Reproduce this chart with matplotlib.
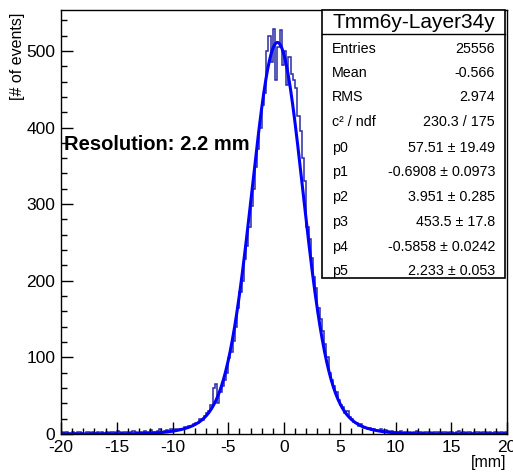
import numpy as np
import matplotlib.pyplot as plt
from matplotlib.patches import Rectangle
from matplotlib.ticker import MultipleLocator

plt.rcParams['font.family'] = ['Liberation Sans', 'DejaVu Sans']
plt.rcParams['axes.unicode_minus'] = False

# histogram: 200 bins of 0.2 mm from -20 to 20
bin_edges = np.linspace(-20, 20, 201)
counts = [
    2, 1, 3, 1, 0, 2, 1, 3, 2, 1, 0, 2, 3, 1, 2, 1, 2, 0, 3, 1,
    2, 1, 3, 2, 1, 4, 2, 1, 3, 2, 1, 3, 4, 2, 1, 3, 2, 4, 3, 2,
    5, 3, 2, 4, 6, 3, 4, 5, 3, 6, 4, 6, 5, 7, 6, 9, 8, 11, 10, 13,
    14, 15, 19, 18, 24, 27, 30, 38, 60, 65, 40, 55, 62, 70, 80, 99, 107, 122, 140, 165,
    185, 200, 228, 245, 270, 298, 320, 348, 372, 400, 430, 445, 500, 520, 485, 528, 462, 505, 527, 482,
    500, 455, 492, 470, 462, 452, 415, 395, 360, 330, 270, 255, 230, 205, 190, 165, 150, 135, 118, 100,
    80, 70, 62, 55, 45, 38, 35, 28, 30, 22, 20, 16, 15, 11, 13, 9, 8, 7, 8, 5,
    6, 5, 4, 6, 3, 5, 4, 3, 4, 2, 3, 2, 4, 1, 3, 2, 3, 1, 2, 4,
    2, 3, 1, 2, 3, 2, 1, 3, 2, 2, 1, 3, 2, 1, 2, 3, 1, 2, 4, 1,
    2, 1, 3, 2, 1, 2, 3, 2, 1, 2, 3, 1, 2, 1, 3, 2, 1, 2, 1, 3,
]

# double gaussian fit parameters (from stats box)
p = [57.51, -0.6908, 3.951, 453.5, -0.5858, 2.233]
p_err = ["19.49", "0.0973", "0.285", "17.8", "0.0242", "0.053"]
p_txt = ["57.51", "-0.6908", "3.951", "453.5", "-0.5858", "2.233"]

stat_names = ["Entries", "Mean", "RMS", "c\u00b2 / ndf"]
stat_vals = ["25556", "-0.566", "2.974", "230.3 / 175"]
title = "Tmm6y-Layer34y"

W, H = 513, 473
fig = plt.figure(figsize=(W / 100, H / 100), dpi=100)
ax = fig.add_axes([61 / W, 1 - 434 / H, 446 / W, 424.5 / H])

ax.stairs(counts, bin_edges, color="#2a2aa5", lw=1.1)

xf = np.linspace(-20, 20, 800)
yf = (p[0] * np.exp(-0.5 * ((xf - p[1]) / p[2]) ** 2)
      + p[3] * np.exp(-0.5 * ((xf - p[4]) / p[5]) ** 2))
ax.plot(xf, yf, color="#0000ff", lw=2.2)

ax.set_xlim(-20, 20)
ax.set_ylim(0, 554)
ax.xaxis.set_major_locator(MultipleLocator(5))
ax.xaxis.set_minor_locator(MultipleLocator(1))
ax.yaxis.set_major_locator(MultipleLocator(100))
ax.yaxis.set_minor_locator(MultipleLocator(20))
ax.tick_params(which="both", direction="in", top=False, right=False, labelsize=12.5, width=1)
ax.tick_params(which="major", length=8.5, pad=4)
ax.tick_params(which="minor", length=4.3)
ax.tick_params(axis="x", pad=4)
for s in ax.spines.values():
    s.set_linewidth(1)

fig.text(18 / W, 1 - 13 / H, "[# of events]", rotation=90, ha="center", va="top", fontsize=11.5)
fig.text(506 / W, 1 - 462 / H, "[mm]", ha="right", va="center", fontsize=11.5)

ax.text(64 / W, 1 - 144 / H, "Resolution: 2.2 mm", transform=fig.transFigure,
        fontsize=14.5, fontweight="bold", ha="left", va="center")

# stats box
bx0, bx1, by0, by1 = 322, 505, 10, 278
fig.patches.append(Rectangle((bx0 / W, 1 - by1 / H), (bx1 - bx0) / W, (by1 - by0) / H,
                             transform=fig.transFigure, fc="white", ec="black", lw=1.2))
fig.lines.append(plt.Line2D([bx0 / W, bx1 / W], [1 - 34 / H, 1 - 34 / H],
                            transform=fig.transFigure, color="black", lw=1))
fig.text((bx0 + bx1) / 2 / W, 1 - 23 / H, title, ha="center", va="center", fontsize=15)

rows_y = [49, 73, 97, 122, 148, 172, 197, 222, 247, 271]
names = stat_names + ["p%d" % i for i in range(6)]
vals = stat_vals + ["%s \u00b1 %s" % (p_txt[i], p_err[i]) for i in range(6)]
for yy, nm, vv in zip(rows_y, names, vals):
    fig.text(332 / W, 1 - yy / H, nm, ha="left", va="center", fontsize=10.3)
    fig.text(495 / W, 1 - yy / H, vv, ha="right", va="center", fontsize=10.3)

fig.savefig("out.png", dpi=100)
